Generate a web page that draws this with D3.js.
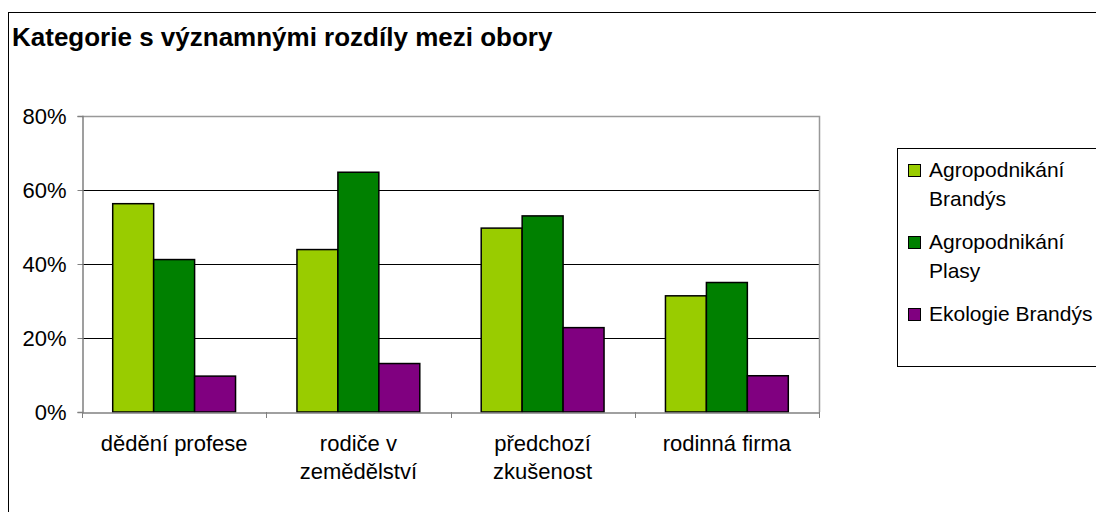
<!DOCTYPE html>
<html>
<head>
<meta charset="utf-8">
<script src="https://cdn.jsdelivr.net/npm/d3@7"></script>
<style>
  body { margin: 0; background: #fff; }
  svg { display: block; font-family: "Liberation Sans", Arial, sans-serif; }
</style>
</head>
<body>
<svg id="chart" width="1096" height="512"></svg>
<script>
// data
var categories = ["dědění profese", "rodiče v zemědělství", "předchozí zkušenost", "rodinná firma"];
var categoryLines = [["dědění profese"], ["rodiče v", "zemědělství"], ["předchozí", "zkušenost"], ["rodinná firma"]];
var seriesNames = ["Agropodnikání Brandýs", "Agropodnikání Plasy", "Ekologie Brandýs"];
var legendLines = [["Agropodnikání", "Brandýs"], ["Agropodnikání", "Plasy"], ["Ekologie Brandýs"]];
var brandys = [0.563, 0.439, 0.497, 0.314];
var plasy   = [0.412, 0.648, 0.530, 0.350];
var ekologie = [0.097, 0.131, 0.228, 0.098];
var yTicks = [0, 0.2, 0.4, 0.6, 0.8];
var colors = ["#99cc00", "#008000", "#800080"];

var values = [brandys, plasy, ekologie];

const svg = d3.select('svg#chart')

// outer chart frame (runs off the right and bottom edge)
svg.append('rect')
  .attr('x', 8.5).attr('y', 12.5)
  .attr('width', 1200).attr('height', 600)
  .attr('fill', 'none').attr('stroke', '#000')

svg.append('text')
  .attr('x', 12).attr('y', 46)
  .style('font-size', '26px')
  .style('font-weight', 'bold')
  .text('Kategorie s významnými rozdíly mezi obory')

const plotL = 82, plotR = 819, plotT = 116, plotB = 412

const x = d3.scaleBand().domain(categories).range([plotL, plotR]).padding(0)
const xs = d3.scaleBand().domain(seriesNames).range([0, x.bandwidth()])
  .paddingInner(0).paddingOuter(0.75)
const y = d3.scaleLinear().domain([0, 0.8]).range([plotB, plotT])

// gridlines
svg.append('g').selectAll('line')
  .data(yTicks.filter(d => d > 0 && d < 0.8))
  .enter().append('line')
  .attr('x1', plotL).attr('x2', plotR)
  .attr('y1', d => Math.round(y(d)) + 0.5).attr('y2', d => Math.round(y(d)) + 0.5)
  .attr('stroke', '#000')

// plot border top / right
svg.append('path')
  .attr('d', `M${plotL},${plotT + 0.5}H${plotR + 0.5}V${plotB}`)
  .attr('fill', 'none').attr('stroke', '#999').attr('stroke-width', 1.5)

// bars
const groups = svg.append('g').selectAll('g')
  .data(values)
  .enter().append('g')
  .attr('fill', (d, i) => colors[i])

groups.each(function (vals, si) {
  d3.select(this).selectAll('rect')
    .data(vals)
    .enter().append('rect')
    .attr('x', (d, ci) => x(categories[ci]) + xs(seriesNames[si]))
    .attr('y', d => y(d))
    .attr('width', xs.bandwidth())
    .attr('height', d => y(0) - y(d))
    .attr('stroke', '#000')
    .attr('stroke-width', 1.5)
})

// y axis
const yAxis = svg.append('g')
  .attr('transform', `translate(${plotL + 0.5},0)`)
  .call(d3.axisLeft(y).tickValues(yTicks).tickFormat(d3.format('.0%')).tickSize(5).tickPadding(11))
yAxis.select('.domain').attr('stroke', '#808080').attr('stroke-width', 1.5)
yAxis.selectAll('.tick line').attr('stroke', '#808080')
yAxis.selectAll('.tick text')
  .style('font-size', '22px')
  .style('font-family', '"Liberation Sans", Arial, sans-serif')
  .attr('fill', '#000')

// x axis
const xAxis = svg.append('g')
  .attr('transform', `translate(0,${plotB + 0.5})`)
  .call(d3.axisBottom(x).tickSize(0).tickFormat(''))
xAxis.select('.domain').attr('stroke', '#808080').attr('stroke-width', 1.5)

// category boundary ticks
svg.append('g').selectAll('line')
  .data(d3.range(categories.length + 1))
  .enter().append('line')
  .attr('x1', i => Math.round(plotL + i * x.step()) + 0.5)
  .attr('x2', i => Math.round(plotL + i * x.step()) + 0.5)
  .attr('y1', plotB).attr('y2', plotB + 6)
  .attr('stroke', '#808080')

// category labels
svg.append('g').selectAll('text')
  .data(categories)
  .enter().append('text')
  .attr('text-anchor', 'middle')
  .attr('x', d => x(d) + x.bandwidth() / 2)
  .attr('y', 451)
  .style('font-size', '22px')
  .selectAll('tspan')
  .data((d, i) => categoryLines[i])
  .enter().append('tspan')
  .attr('x', function () { return this.parentNode.getAttribute('x') })
  .attr('dy', (d, i) => i === 0 ? 0 : 28)
  .text(d => d)

// legend
const legend = svg.append('g')
legend.append('rect')
  .attr('x', 897.5).attr('y', 148.5)
  .attr('width', 300).attr('height', 218)
  .attr('fill', '#fff').attr('stroke', '#000')

const legendY = [164, 236, 308]
const item = legend.selectAll('g.item')
  .data(seriesNames)
  .enter().append('g').attr('class', 'item')

item.append('rect')
  .attr('x', 908.5).attr('y', (d, i) => legendY[i] + 0.5)
  .attr('width', 12).attr('height', 12)
  .attr('fill', (d, i) => colors[i])
  .attr('stroke', '#000')

item.append('text')
  .attr('x', 929)
  .attr('y', (d, i) => legendY[i] + 13)
  .style('font-size', '21px')
  .selectAll('tspan')
  .data((d, i) => legendLines[i])
  .enter().append('tspan')
  .attr('x', 929)
  .attr('dy', (d, i) => i === 0 ? 0 : 29)
  .text(d => d)
</script>
</body>
</html>
